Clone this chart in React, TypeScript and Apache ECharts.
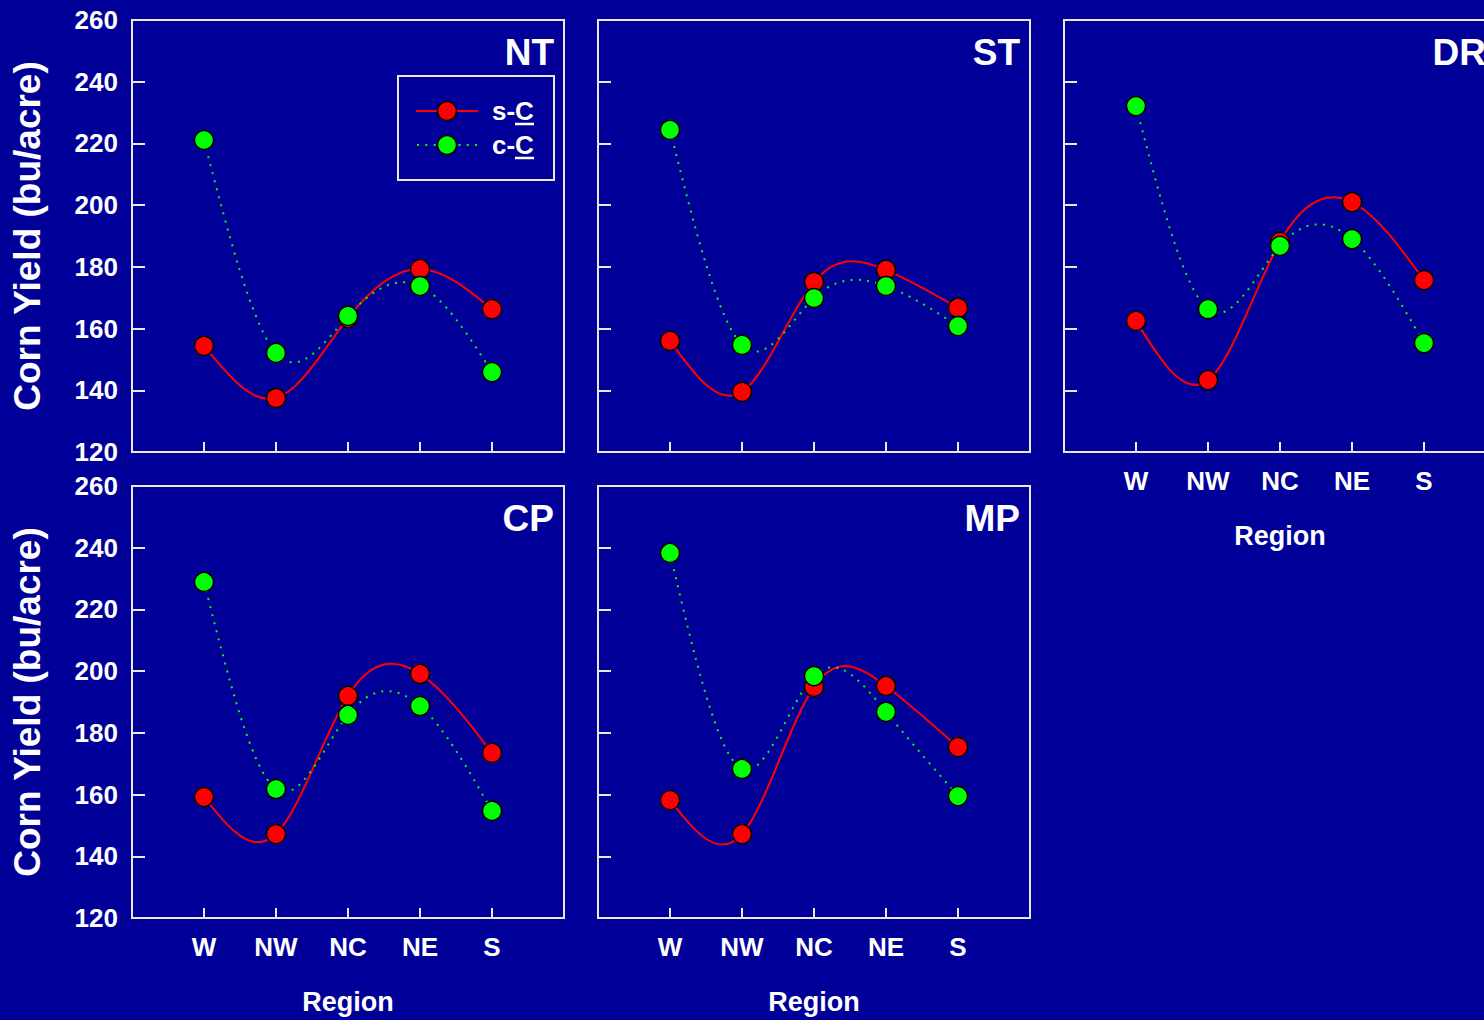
import React, { useEffect, useRef } from "react";
import * as echarts from "echarts";

const regions = ["W", "NW", "NC", "NE", "S"];
const yMin = 120;
const yMax = 260;
const yStep = 20;

const ntSC = [154.4, 137.5, 163.4, 179.3, 166.3];
const ntCC = [221.1, 152.1, 164.1, 173.8, 145.9];
const stSC = [156.0, 139.5, 175.1, 179.0, 166.7];
const stCC = [224.4, 154.7, 169.9, 173.8, 160.8];
const drSC = [162.5, 143.3, 188.1, 201.0, 175.7];
const drCC = [232.1, 166.3, 186.8, 189.0, 155.3];
const cpSC = [159.2, 147.2, 192.0, 199.1, 173.5];
const cpCC = [228.9, 161.8, 185.8, 188.7, 154.7];
const mpSC = [158.2, 147.2, 194.9, 195.2, 175.4];
const mpCC = [238.3, 168.3, 198.4, 186.8, 159.5];

const panelNames = ["NT", "ST", "DR", "CP", "MP"];
const seriesNames = ["s-C", "c-C"];

const FONT = '"Liberation Sans", Arial, sans-serif';
const WHITE = "#ffffff";
const BORDER = "#e8e8e8";
const RED = "#ff0000";
const GREEN = "#00ff00";

const panels = [
  { name: panelNames[0], sc: ntSC, cc: ntCC, left: 132, top: 20, yLab: true, xLab: false },
  { name: panelNames[1], sc: stSC, cc: stCC, left: 598, top: 20, yLab: false, xLab: false },
  { name: panelNames[2], sc: drSC, cc: drCC, left: 1064, top: 20, yLab: false, xLab: true },
  { name: panelNames[3], sc: cpSC, cc: cpCC, left: 132, top: 486, yLab: true, xLab: true },
  { name: panelNames[4], sc: mpSC, cc: mpCC, left: 598, top: 486, yLab: false, xLab: true },
];
const SIZE = 432;

// natural cubic spline through pixel points (uniform x spacing), returns slopes dy/dx at each point
function splineSlopes(pts: number[][]): number[] {
  const n = pts.length;
  const h = pts[1][0] - pts[0][0];
  const y = pts.map((p) => p[1]);
  // solve for second derivatives M with M0 = Mn-1 = 0 (tridiagonal)
  const M = new Array(n).fill(0);
  const m = n - 2;
  if (m > 0) {
    const a = new Array(m).fill(1);
    const b = new Array(m).fill(4);
    const c = new Array(m).fill(1);
    const d = new Array(m);
    for (let i = 0; i < m; i++) {
      d[i] = (6 / (h * h)) * (y[i + 2] - 2 * y[i + 1] + y[i]);
    }
    for (let i = 1; i < m; i++) {
      const w = a[i] / b[i - 1];
      b[i] -= w * c[i - 1];
      d[i] -= w * d[i - 1];
    }
    const sol = new Array(m);
    sol[m - 1] = d[m - 1] / b[m - 1];
    for (let i = m - 2; i >= 0; i--) sol[i] = (d[i] - c[i] * sol[i + 1]) / b[i];
    for (let i = 0; i < m; i++) M[i + 1] = sol[i];
  }
  const s = new Array(n);
  for (let i = 0; i < n - 1; i++) {
    s[i] = (y[i + 1] - y[i]) / h - (h * (2 * M[i] + M[i + 1])) / 6;
  }
  s[n - 1] = (y[n - 1] - y[n - 2]) / h + (h * (M[n - 2] + 2 * M[n - 1])) / 6;
  return s;
}

function curveSeries(values: number[], idx: number, color: string, dashed: boolean) {
  const data = values.map((v, k) => [k + 1, v]);
  return {
    type: "custom",
    xAxisIndex: idx,
    yAxisIndex: idx,
    data,
    silent: true,
    renderItem: (params: any, api: any) => {
      const i = params.dataIndex;
      if (i >= data.length - 1) return null;
      const pts = data.map((d) => api.coord(d));
      const s = splineSlopes(pts);
      const p0 = pts[i];
      const p1 = pts[i + 1];
      const h = p1[0] - p0[0];
      return {
        type: "bezierCurve",
        shape: {
          x1: p0[0],
          y1: p0[1],
          cpx1: p0[0] + h / 3,
          cpy1: p0[1] + (s[i] * h) / 3,
          cpx2: p1[0] - h / 3,
          cpy2: p1[1] - (s[i + 1] * h) / 3,
          x2: p1[0],
          y2: p1[1],
        },
        style: {
          fill: "none",
          stroke: color,
          lineWidth: 2,
          lineDash: dashed ? [2, 6.3] : null,
        },
      };
    },
  };
}

function pointSeries(values: number[], idx: number, color: string, name: string) {
  return {
    type: "scatter",
    name,
    xAxisIndex: idx,
    yAxisIndex: idx,
    data: values.map((v, k) => [k + 1, v]),
    symbol: "circle",
    symbolSize: 19,
    itemStyle: { color, borderColor: "#000", borderWidth: 1.5, opacity: 1 },
  };
}

export default function App() {
  const ref = useRef<HTMLDivElement>(null);
  useEffect(() => {
    if (!ref.current) return;
    const chart = echarts.init(ref.current, null, { renderer: "svg" });
    const labelStyle = { color: WHITE, fontSize: 26, fontWeight: "bold", fontFamily: FONT };
    const option: any = {
      animation: false,
      backgroundColor: "#000099",
      grid: panels.map((p) => ({
        left: p.left,
        top: p.top,
        width: SIZE,
        height: SIZE,
        show: true,
        borderColor: BORDER,
        borderWidth: 2,
        backgroundColor: "transparent",
      })),
      xAxis: panels.map((p, i) => ({
        type: "value",
        gridIndex: i,
        min: 0,
        max: 6,
        interval: 1,
        axisLine: { show: false },
        splitLine: { show: false },
        axisTick: { show: true, inside: true, length: 10, lineStyle: { color: BORDER, width: 2 } },
        axisLabel: {
          show: p.xLab,
          margin: 16,
          ...labelStyle,
          formatter: (v: number) => regions[v - 1] ?? "",
        },
        name: p.xLab ? "Region" : "",
        nameLocation: "middle",
        nameGap: 70,
        nameTextStyle: { color: WHITE, fontSize: 27, fontWeight: "bold", fontFamily: FONT },
      })),
      yAxis: panels.map((p, i) => ({
        type: "value",
        gridIndex: i,
        min: yMin,
        max: yMax,
        interval: yStep,
        axisLine: { show: false },
        splitLine: { show: false },
        axisTick: { show: true, inside: true, length: 13, lineStyle: { color: BORDER, width: 2 } },
        axisLabel: { show: p.yLab, margin: 14, ...labelStyle },
        name: p.yLab ? "Corn Yield (bu/acre)" : "",
        nameLocation: "middle",
        nameGap: 86,
        nameTextStyle: { color: WHITE, fontSize: 37, fontWeight: "bold", fontFamily: FONT },
      })),
      series: panels.flatMap((p, i) => [
        curveSeries(p.sc, i, RED, false),
        pointSeries(p.sc, i, RED, seriesNames[0]),
        curveSeries(p.cc, i, GREEN, true),
        pointSeries(p.cc, i, GREEN, seriesNames[1]),
      ]),
      graphic: [
        ...panels.map((p) => ({
          type: "text",
          x: p.left + SIZE - 10,
          y: p.top + 32,
          style: {
            text: p.name,
            fill: WHITE,
            font: `bold 37px ${FONT}`,
            align: "right",
            verticalAlign: "middle",
            textAlign: "right",
            textVerticalAlign: "middle",
          },
        })),
        {
          type: "rect",
          shape: { x: 398, y: 76, width: 156, height: 104 },
          style: { fill: "none", stroke: BORDER, lineWidth: 2 },
        },
        { type: "line", shape: { x1: 416, y1: 111, x2: 478, y2: 111 }, style: { stroke: RED, lineWidth: 2 } },
        { type: "circle", shape: { cx: 447, cy: 111, r: 9.5 }, style: { fill: RED, stroke: "#000", lineWidth: 1.5 } },
        {
          type: "line",
          shape: { x1: 417, y1: 145, x2: 478, y2: 145 },
          style: { stroke: GREEN, lineWidth: 2, lineDash: [2, 6.3] },
        },
        { type: "circle", shape: { cx: 447, cy: 145, r: 9.5 }, style: { fill: GREEN, stroke: "#000", lineWidth: 1.5 } },
        ...seriesNames.map((s, k) => ({
          type: "text",
          x: 492,
          y: 111 + k * 34,
          style: {
            text: s,
            fill: WHITE,
            font: `bold 26px ${FONT}`,
            align: "left",
            verticalAlign: "middle",
            textAlign: "left",
            textVerticalAlign: "middle",
          },
        })),
        ...seriesNames.map((s, k) => ({
          type: "line",
          shape: { x1: 515, y1: 124 + k * 34, x2: 534, y2: 124 + k * 34 },
          style: { stroke: WHITE, lineWidth: 2.5 },
        })),
      ],
    };
    chart.setOption(option);
    return () => chart.dispose();
  }, []);
  return (
    <div style={{ position: "absolute", left: 0, top: 0, width: 1484, height: 1020, overflow: "hidden" }}>
      <div ref={ref} style={{ width: 1500, height: 1020 }} />
    </div>
  );
}
